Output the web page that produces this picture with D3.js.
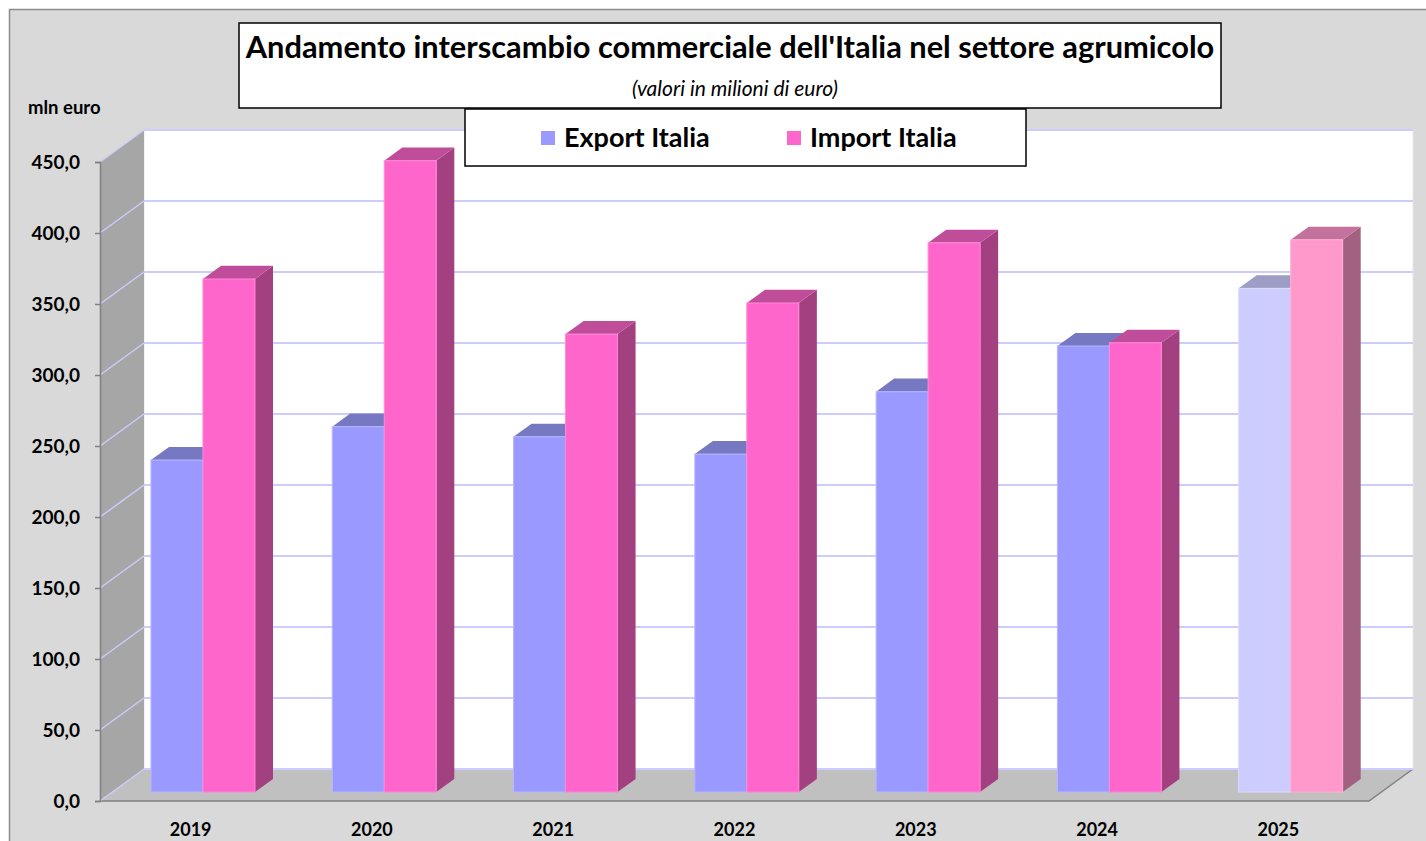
<!DOCTYPE html>
<html>
<head>
<meta charset="utf-8">
<script src="https://cdn.jsdelivr.net/npm/d3@7"></script>
<style>
  html, body { margin: 0; padding: 0; background: #ffffff; }
  svg { display: block; font-family: Lato, "Open Sans", sans-serif; }
</style>
</head>
<body>
<svg id="chart"></svg>
<script>
const years = ["2019", "2020", "2021", "2022", "2023", "2024", "2025"];
const exportValues = [233.8, 257.3, 250.2, 238.0, 281.9, 314.1, 354.7];
const importValues = [361.3, 444.6, 322.5, 344.4, 386.8, 316.4, 388.9];
const yTicks = [0, 50, 100, 150, 200, 250, 300, 350, 400, 450];
const seriesNames = ["Export Italia", "Import Italia"];
const lightYear = "2025";

const width = 1426;
const height = 841;

// plot frame (front plane) and 3d depth
const plotLeft = 100, plotRight = 1369, plotBottom = 801, plotTop = 162;
const depthX = 44, depthY = 32;
const zFront = 0.28, zBack = 0.69;
const groupWidth = 104;

const colors = {
  "Export Italia": { front: "#9999ff", top: "#7678c2", side: "#6f6fb3", edge: "#b8b8ff" },
  "Import Italia": { front: "#ff66cc", top: "#c04d99", side: "#a3407f", edge: "#ff8ad8" },
};
const lightColors = {
  "Export Italia": { front: "#ccccff", top: "#9d9dc5", side: "#9a9ab8", edge: "#dcdcff" },
  "Import Italia": { front: "#ff99cc", top: "#c2729c", side: "#a2617f", edge: "#ffb0d8" },
};

const svg = d3.select("#chart").attr("width", width).attr("height", height);

// chart area background
svg.append("rect")
  .attr("x", 9.5).attr("y", 9.5)
  .attr("width", width).attr("height", height)
  .attr("fill", "#d9d9d9")
  .attr("stroke", "#8c8c8c")
  .attr("stroke-width", 1.5);

const x0 = d3.scaleBand().domain(years).range([plotLeft, plotRight]);
const x1 = d3.scaleBand().domain(seriesNames).range([-groupWidth / 2, groupWidth / 2]);
const y = d3.scaleLinear().domain([0, 450]).range([plotBottom, plotTop]);

const ox = (z) => z * depthX;
const oy = (z) => -z * depthY;
const pts = (arr) => arr.map((p) => p.join(",")).join(" ");

// back wall
svg.append("rect")
  .attr("x", plotLeft + depthX).attr("y", y(450) - depthY)
  .attr("width", plotRight - plotLeft).attr("height", plotBottom - plotTop)
  .attr("fill", "#ffffff")
  .attr("stroke", "#e6e6e6")
  .attr("stroke-width", 1);

// left wall
svg.append("polygon")
  .attr("points", pts([[plotLeft, y(450)], [plotLeft + depthX, y(450) - depthY], [plotLeft + depthX, plotBottom - depthY], [plotLeft, plotBottom]]))
  .attr("fill", "#a6a6a6");

// floor
svg.append("polygon")
  .attr("points", pts([[plotLeft, plotBottom], [plotLeft + depthX, plotBottom - depthY], [plotRight + depthX, plotBottom - depthY], [plotRight, plotBottom]]))
  .attr("fill", "#c0c0c0");
svg.append("polyline")
  .attr("points", pts([[plotLeft, plotBottom], [plotRight, plotBottom], [plotRight + depthX, plotBottom - depthY]]))
  .attr("fill", "none")
  .attr("stroke", "#808080")
  .attr("stroke-width", 1.5);

// gridlines
const grid = svg.append("g").attr("class", "grid");
grid.selectAll(".gback")
  .data(yTicks)
  .enter()
  .append("line")
  .attr("x1", plotLeft + depthX).attr("x2", plotRight + depthX)
  .attr("y1", (d) => y(d) - depthY).attr("y2", (d) => y(d) - depthY)
  .attr("stroke", "#ccccff")
  .attr("stroke-width", 2);
grid.selectAll(".gside")
  .data(yTicks)
  .enter()
  .append("line")
  .attr("x1", plotLeft).attr("x2", plotLeft + depthX)
  .attr("y1", (d) => y(d)).attr("y2", (d) => y(d) - depthY)
  .attr("stroke", "#ccccff")
  .attr("stroke-width", 1.5);

// y axis
const yAxis = d3.axisLeft(y)
  .tickValues(yTicks)
  .tickSize(5)
  .tickPadding(15)
  .tickFormat((d) => d3.format(".1f")(d).replace(".", ","));
const yg = svg.append("g")
  .attr("transform", "translate(" + plotLeft + ",0)")
  .call(yAxis);
yg.select(".domain").attr("stroke", "#808080").attr("stroke-width", 1.5);
yg.selectAll(".tick line").attr("stroke", "#808080").attr("stroke-width", 1.5);
yg.selectAll(".tick text")
  .attr("font-family", "Lato, sans-serif")
  .attr("font-size", 19)
  .attr("font-weight", "bold")
  .attr("fill", "#000");

// x labels
svg.selectAll(".xlabel")
  .data(years)
  .enter()
  .append("text")
  .attr("x", (d) => x0(d) + x0.bandwidth() / 2)
  .attr("y", 836)
  .attr("text-anchor", "middle")
  .attr("font-size", 18)
  .attr("font-weight", "bold")
  .text((d) => d);

// bars
const barData = [];
years.forEach((yr, i) => {
  barData.push({ year: yr, series: "Export Italia", value: exportValues[i] });
  barData.push({ year: yr, series: "Import Italia", value: importValues[i] });
});

const bars = svg.selectAll(".bar")
  .data(barData)
  .enter()
  .append("g")
  .attr("class", "bar");

bars.each(function (d) {
  const g = d3.select(this);
  const c = (d.year === lightYear ? lightColors : colors)[d.series];
  const xl = x0(d.year) + x0.bandwidth() / 2 + x1(d.series) + ox(zFront);
  const xr = xl + x1.bandwidth();
  const yt = y(d.value) + oy(zFront);
  const yb = y(0) + oy(zFront);
  const dx = ox(zBack - zFront);
  const dy = oy(zBack - zFront);
  // side
  g.append("polygon")
    .attr("points", pts([[xr, yt], [xr + dx, yt + dy], [xr + dx, yb + dy], [xr, yb]]))
    .attr("fill", c.side);
  // top
  g.append("polygon")
    .attr("points", pts([[xl, yt], [xl + dx, yt + dy], [xr + dx, yt + dy], [xr, yt]]))
    .attr("fill", c.top);
  // front
  g.append("rect")
    .attr("x", xl).attr("y", yt)
    .attr("width", xr - xl).attr("height", yb - yt)
    .attr("fill", c.front)
    .attr("stroke", c.edge)
    .attr("stroke-width", 1);
});

// y axis title
svg.append("text")
  .attr("x", 28).attr("y", 114)
  .attr("font-size", 18.5)
  .attr("font-weight", "bold")
  .text("mln euro");

// title box
svg.append("rect")
  .attr("x", 239).attr("y", 23)
  .attr("width", 982).attr("height", 85)
  .attr("fill", "#ffffff")
  .attr("stroke", "#000")
  .attr("stroke-width", 1.5);
svg.append("text")
  .attr("x", 730).attr("y", 58)
  .attr("text-anchor", "middle")
  .attr("font-size", 30.8)
  .attr("font-weight", "bold")
  .text("Andamento interscambio commerciale dell'Italia nel settore agrumicolo");
svg.append("text")
  .attr("x", 735).attr("y", 96)
  .attr("text-anchor", "middle")
  .attr("font-size", 21)
  .attr("font-style", "italic")
  .text("(valori in milioni di euro)");

// legend
svg.append("rect")
  .attr("x", 465).attr("y", 109)
  .attr("width", 561).attr("height", 57)
  .attr("fill", "#ffffff")
  .attr("stroke", "#000")
  .attr("stroke-width", 1.5);
const legendX = d3.scaleOrdinal().domain(seriesNames).range([541, 787]);
const legend = svg.selectAll(".legend")
  .data(seriesNames)
  .enter()
  .append("g")
  .attr("class", "legend")
  .attr("transform", (d) => "translate(" + legendX(d) + ",0)");
legend.append("rect")
  .attr("x", 0).attr("y", 131)
  .attr("width", 14).attr("height", 14)
  .attr("fill", (d) => colors[d].front);
legend.append("text")
  .attr("x", 23).attr("y", 147)
  .attr("font-size", 27)
  .attr("font-weight", "bold")
  .text((d) => d);
</script>
</body>
</html>
